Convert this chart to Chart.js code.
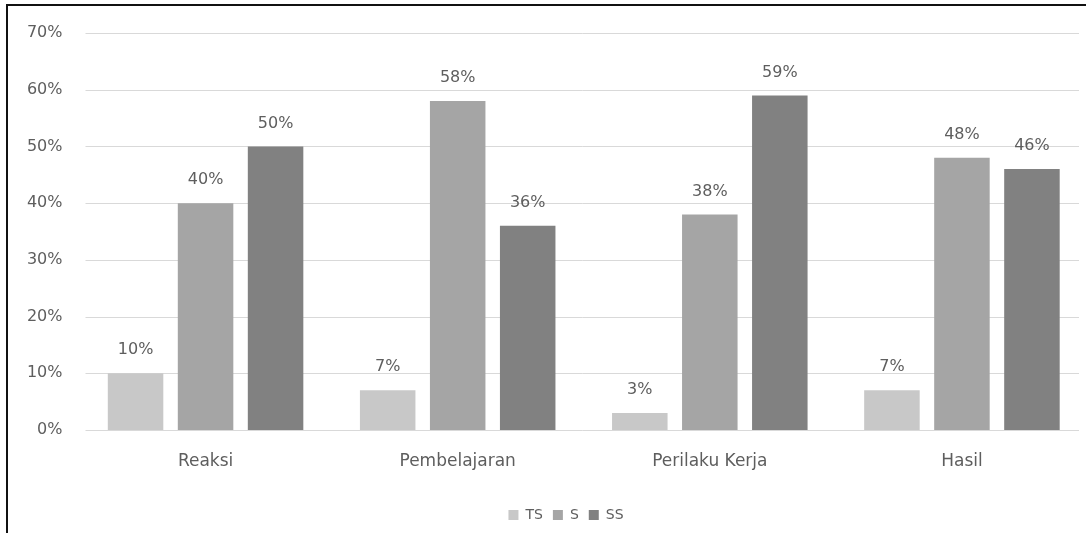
<!DOCTYPE html>
<html>
<head>
<meta charset="utf-8">
<script src="https://cdn.jsdelivr.net/npm/chart.js@4.4.1/dist/chart.umd.min.js"></script>
<style>
  html, body { margin: 0; padding: 0; background: #ffffff; overflow: hidden; }
  #wrap { position: relative; width: 1090px; height: 533px; }
  canvas { display: block; }
</style>
</head>
<body>
<div id="wrap"><canvas id="chart" width="1090" height="533"></canvas></div>
<script>
// Categories and series (percent)
const categories = ['Reaksi', 'Pembelajaran', 'Perilaku Kerja', 'Hasil'];
const seriesTS = [10, 7, 3, 7];
const seriesS  = [40, 58, 38, 48];
const seriesSS = [50, 36, 59, 46];
const seriesNames = ['TS', 'S', 'SS'];
const yTicks = [0, 10, 20, 30, 40, 50, 60, 70];

const FONT = '"DejaVu Sans", "Open Sans", sans-serif';
const TEXT = '#5e5e5e';

// Frame lines along the top and left edge of the figure
const framePlugin = {
  id: 'frame',
  beforeDraw(chart) {
    const ctx = chart.ctx;
    ctx.save();
    ctx.fillStyle = '#ffffff';
    ctx.fillRect(0, 0, chart.width, chart.height);
    ctx.strokeStyle = '#111111';
    ctx.lineWidth = 2;
    ctx.beginPath();
    ctx.moveTo(7, chart.height);
    ctx.lineTo(7, 5);
    ctx.lineTo(chart.width, 5);
    ctx.stroke();
    ctx.restore();
  },
  // horizontal value gridlines, a little inset from the plot edges
  beforeDatasetsDraw(chart) {
    const ctx = chart.ctx;
    const y = chart.scales.y;
    ctx.save();
    ctx.strokeStyle = '#d9d9d9';
    ctx.lineWidth = 1;
    yTicks.forEach(v => {
      const py = Math.round(y.getPixelForValue(v)) + 0.5;
      ctx.beginPath();
      ctx.moveTo(chart.chartArea.left + 6, py);
      ctx.lineTo(chart.chartArea.right - 9, py);
      ctx.stroke();
    });
    ctx.restore();
  }
};

// Shift the legend row to sit under the middle of the figure
const legendShift = {
  id: 'legendShift',
  afterLayout(chart) {
    const lg = chart.legend;
    if (lg) { lg.left += 22; lg.right += 22; }
  }
};

// Percentage labels above each bar
const valueLabels = {
  id: 'valueLabels',
  afterDatasetsDraw(chart) {
    const ctx = chart.ctx;
    ctx.save();
    ctx.font = '16px ' + FONT;
    ctx.fillStyle = TEXT;
    ctx.textAlign = 'center';
    ctx.textBaseline = 'middle';
    chart.data.datasets.forEach((ds, i) => {
      chart.getDatasetMeta(i).data.forEach((bar, j) => {
        ctx.fillText(ds.data[j] + '%', bar.x, bar.y - 23);
      });
    });
    ctx.restore();
  }
};

new Chart(document.getElementById('chart'), {
  type: 'bar',
  data: {
    labels: categories,
    datasets: [
      { label: seriesNames[0], data: seriesTS, backgroundColor: '#c8c8c8' },
      { label: seriesNames[1], data: seriesS,  backgroundColor: '#a5a5a5' },
      { label: seriesNames[2], data: seriesSS, backgroundColor: '#818181' }
    ]
  },
  options: {
    responsive: false,
    animation: false,
    layout: { padding: { left: 0, right: 2, top: 33, bottom: 1 } },
    datasets: { bar: { categoryPercentage: 0.833, barPercentage: 0.793 } },
    scales: {
      x: {
        grid: { display: false, drawTicks: false },
        border: { display: false },
        afterFit(scale) { scale.height = 68; },
        ticks: { color: TEXT, font: { family: FONT, size: 17 }, padding: 21 }
      },
      y: {
        min: 0,
        max: 70,
        afterBuildTicks(scale) { scale.ticks = yTicks.map(v => ({ value: v })); },
        afterFit(scale) { scale.width = 79.5; },
        grid: { display: false, drawTicks: false },
        border: { display: false },
        ticks: {
          color: TEXT,
          font: { family: FONT, size: 16 },
          padding: 17,
          callback: v => v + '%'
        }
      }
    },
    plugins: {
      legend: {
        position: 'bottom',
        labels: {
          color: TEXT,
          font: { family: FONT, size: 14 },
          boxWidth: 10,
          boxHeight: 10,
          padding: 10
        }
      },
      tooltip: { enabled: false }
    }
  },
  plugins: [framePlugin, legendShift, valueLabels]
});
</script>
</body>
</html>
